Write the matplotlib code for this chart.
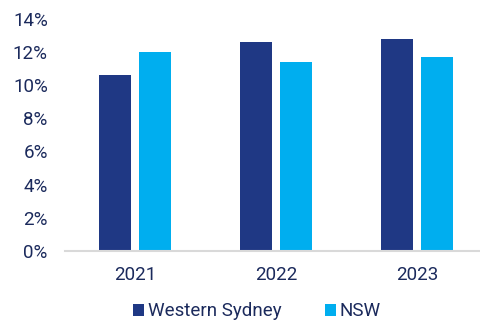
import matplotlib
matplotlib.use("Agg")
import matplotlib.pyplot as plt
import numpy as np
from matplotlib.ticker import FuncFormatter

plt.rcParams['font.family'] = ['Roboto', 'DejaVu Sans']

years = ['2021', '2022', '2023']
western_sydney = [10.6, 12.6, 12.8]
nsw = [12.0, 11.4, 11.7]

navy = '#1F3884'
sky = '#00AEEF'
txt = '#1B2A5C'

fig = plt.figure(figsize=(4.8, 3.23), dpi=100)
ax = fig.add_axes([64.5 / 480, 72 / 323, 423 / 480, 232.2 / 323])

x = np.arange(len(years))
w = 0.227
off = 0.1436
b1 = ax.bar(x - off, western_sydney, w, color=navy, label='Western Sydney')
b2 = ax.bar(x + off, nsw, w, color=sky, label='NSW')

ax.set_xlim(-0.5, 2.5)
ax.set_ylim(0, 14)
ax.set_yticks(np.arange(0, 15, 2))
ax.yaxis.set_major_formatter(FuncFormatter(lambda v, p: f'{v:.0f}%'))
ax.set_xticks(x)
ax.set_xticklabels(years)

for s in ['top', 'right', 'left']:
    ax.spines[s].set_visible(False)
ax.spines['bottom'].set_color('#D9D9D9')
ax.spines['bottom'].set_linewidth(1.5)
ax.spines['bottom'].set_clip_on(False)

ax.tick_params(axis='y', length=0, pad=12, labelsize=13.5, labelcolor=txt)
ax.tick_params(axis='x', length=0, pad=11, labelsize=13.5, labelcolor=txt)

leg = fig.legend(handles=[b1, b2], loc='center', bbox_to_anchor=(257 / 480, 11.5 / 323),
                 ncol=2, frameon=False, fontsize=13.5, handlelength=0.6, handleheight=0.6,
                 handletextpad=0.2, columnspacing=2.3, borderaxespad=0, borderpad=0)
for t in leg.get_texts():
    t.set_color(txt)

fig.savefig('out.png', dpi=100)
